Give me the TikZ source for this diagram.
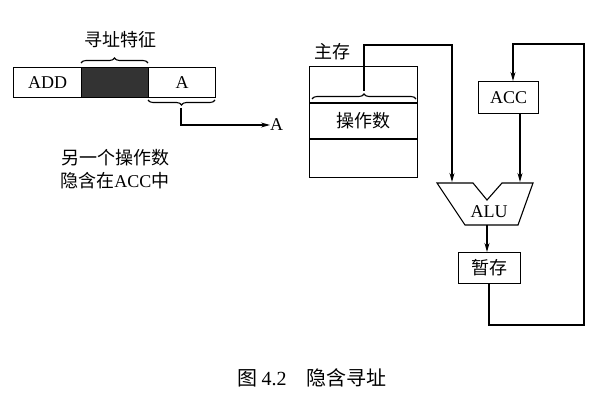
\documentclass[tikz,border=0pt]{standalone}
\usepackage{fontspec}
\setmainfont{Liberation Serif}
\newfontfamily\cjk{Noto Sans CJK SC}
\usetikzlibrary{decorations.pathreplacing,arrows.meta}
\begin{document}
\begin{tikzpicture}[x=1pt,y=-1pt,
  ln/.style={line width=1.1pt},
  arr/.style={ln,-{Stealth[length=9pt,width=5pt]}},
  br/.style={ln,decorate,decoration={brace,amplitude=5pt}},
  txt/.style={font=\fontsize{18}{21}\selectfont,inner sep=0pt}]
\useasboundingbox (0,0) rectangle (616,401);
% instruction
\node[draw,ln,minimum width=68pt,minimum height=30pt,txt,anchor=north west] (add) at (13,67) {ADD};
\node[draw,ln,fill=black!80,minimum width=67pt,minimum height=30pt,anchor=north west] (blk) at (81,67) {};
\node[draw,ln,minimum width=67pt,minimum height=30pt,txt,anchor=north west] (a) at (148,67) {A};
\draw[br] (81,63) -- (148,63);
\node[txt] (xz) at (120,40) {\cjk 寻址特征};
\draw[br] (215,100) -- (148,100);
\coordinate (b1) at (181,108);
\node[txt,anchor=west] (A2) at (270,125) {A};
\draw[arr] (b1) |- (A2.west);
\node[txt] (t1) at (115,158) {\cjk 另一个操作数};
\node[txt] (t2) at (115,181) {\cjk 隐含在{\rmfamily ACC}中};
% memory
\node[draw,ln,minimum width=108pt,minimum height=111pt,anchor=north west] (mem) at (309,66) {};
\draw[ln] (309,103) -- (417,103) (309,139) -- (417,139);
\node[txt] (op) at (363,121) {\cjk 操作数};
\node[txt] (zc) at (332,52) {\cjk 主存};
\draw[br] (312,99) -- (416,99);
% ACC, ALU, temp
\node[draw,ln,minimum width=60pt,minimum height=32pt,txt,anchor=north west] (acc) at (478,81) {ACC};
\draw[ln] (437,183) -- (473,183) -- (487,200) -- (502,183) -- (533,183) -- (518,225) -- (465,225) -- cycle;
\node[txt] (alu) at (489,212) {ALU};
\node[draw,ln,minimum width=62pt,minimum height=31pt,anchor=north west] (tmp) at (458,252) {};
\node[txt] at (tmp.center) {\cjk 暂存};
\coordinate (m1) at (364,91);
\coordinate (aluL) at (452,182);
\coordinate (aluR) at (520,182);
\coordinate (aluB) at (487,225);
\draw[arr] (m1) -- (364,45) -- (452,45) -- (aluL);
\draw[arr] (acc.south -| aluR) -- (aluR);
\draw[arr] (aluB) -- (tmp.north -| aluB);
\draw[arr] (489,283) -- (489,325) -- (584,325) -- (584,44) -- (513,44) -- (513,81);
% caption
\node[txt,font=\fontsize{20}{22}\selectfont] (cap) at (312,378) {\cjk 图\ {\rmfamily 4.2}\quad 隐含寻址};
\end{tikzpicture}
\end{document}
